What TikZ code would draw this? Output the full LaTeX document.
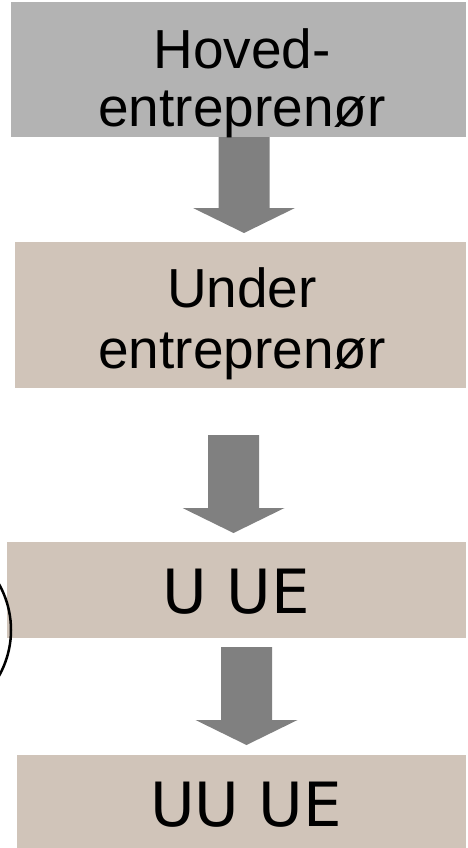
\documentclass[tikz,border=0pt]{standalone}
\usepackage{fontspec}
\setmainfont{Liberation Sans}
\newfontfamily\uefont{DejaVu Sans}
\definecolor{hovedgray}{HTML}{B3B3B3}
\definecolor{uetaupe}{HTML}{D0C4B9}
\definecolor{pilgray}{HTML}{808080}
\tikzset{
    boks/.style={anchor=north west, inner sep=0pt, outer sep=0pt},
    tekst/.style={anchor=base, inner sep=0pt, align=center,
        font=\fontsize{55pt}{58pt}\selectfont},
    uetekst/.style={anchor=base, inner sep=0pt,
        font=\uefont\fontsize{61pt}{61pt}\selectfont}
}
\begin{document}
\begin{tikzpicture}[x=1pt, y=-1pt]
\useasboundingbox (0,0) rectangle (467,848);
% boxes
\node[boks, fill=hovedgray, minimum width=455pt, minimum height=135pt] (hoved) at (11,2) {};
\node[boks, fill=uetaupe, minimum width=451pt, minimum height=146pt] (under) at (15,242) {};
\node[boks, fill=uetaupe, minimum width=459pt, minimum height=96pt] (uue) at (7,542) {};
\node[boks, fill=uetaupe, minimum width=449pt, minimum height=93pt] (uuue) at (17,755) {};
% block arrows: centre/top/tip
\foreach \cx/\top/\tip in {244/137/233, 233.5/435/533, 246.5/647/745}
{
    \fill[pilgray] (\cx-25.5,\top) -- (\cx+25.5,\top) -- (\cx+25.5,\tip-25)
        -- (\cx+51,\tip-25) -- (\cx,\tip) -- (\cx-51,\tip-25)
        -- (\cx-25.5,\tip-25) -- cycle;
}
% texts
\node[tekst] (hovedtxt) at (242,126) {Hoved-\\entrepren\o r};
\node[tekst, font=\fontsize{55pt}{61pt}\selectfont] (undertxt) at (242,368) {Under\\entrepren\o r};
\node[uetekst] (uuetxt) at (236,613) {U UE};
\node[uetekst] (uuuetxt) at (246,826) {UU UE};
% circle at the left edge
\draw[line width=2.5pt] (-82.5,630) circle (93.5);
\end{tikzpicture}
\end{document}
